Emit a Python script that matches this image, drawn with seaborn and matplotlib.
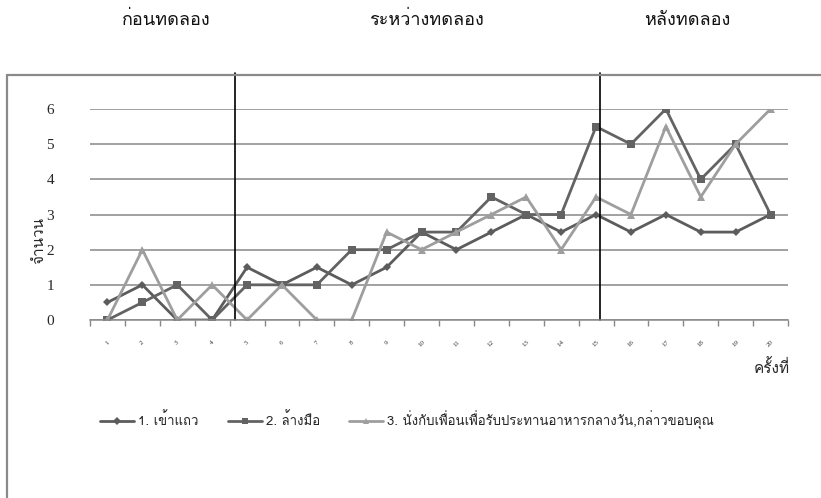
import matplotlib
matplotlib.use("Agg")
import matplotlib.pyplot as plt
import seaborn as sns
import pandas as pd
from matplotlib import font_manager
from matplotlib.ft2font import FT2Font
from matplotlib.lines import Line2D

# ---------------- data ----------------
sessions = list(range(1, 21))
tick_labels = [str(i) for i in sessions]
series_names = ["1. เข้าแถว", "2. ล้างมือ",
                "3. นั่งกับเพื่อนเพื่อรับประทานอาหารกลางวัน,กล่าวขอบคุณ"]
s1 = [0.5, 1, 0, 0, 1.5, 1, 1.5, 1, 1.5, 2.5, 2, 2.5, 3, 2.5, 3, 2.5, 3, 2.5, 2.5, 3]
s2 = [0, 0.5, 1, 0, 1, 1, 1, 2, 2, 2.5, 2.5, 3.5, 3, 3, 5.5, 5, 6, 4, 5, 3]
s3 = [0, 2, 0, 1, 0, 1, 0, 0, 2.5, 2, 2.5, 3, 3.5, 2, 3.5, 3, 5.5, 3.5, 5, 6]
phase_labels = ["ก่อนทดลอง", "ระหว่างทดลอง", "หลังทดลอง"]
y_label = "จำนวน"
x_label = "ครั้งที่"

# ---------------- fonts ----------------
thai_font = None
for f in font_manager.fontManager.ttflist:
    try:
        ft = FT2Font(f.fname)
        if 0x0E01 in ft.get_charmap():
            thai_font = f.name
            break
    except Exception:
        pass

sns.set_theme(style="white")
fams = ([thai_font] if thai_font else []) + ["DejaVu Sans"]
plt.rcParams["font.family"] = fams
serif = ["Liberation Serif", "DejaVu Serif"]

W, H = 821, 498
fig = plt.figure(figsize=(W / 100, H / 100), dpi=100)
ax = fig.add_axes([90 / W, 1 - 320 / H, (788 - 90) / W, (320 - 109) / H])

rows = []
for name, vals in zip(series_names, [s1, s2, s3]):
    for x, v in zip(sessions, vals):
        rows.append({"session": x, "value": v, "series": name})
df = pd.DataFrame(rows)

colors = ["#5c5c5c", "#636363", "#9e9e9e"]
sns.lineplot(data=df, x="session", y="value", hue="series", style="series",
             hue_order=series_names, style_order=series_names,
             palette=colors, markers=["D", "s", "^"], dashes=False,
             linewidth=2.0, markersize=6, markeredgewidth=0, ax=ax, legend=False)
for ln in ax.get_lines()[:1]:
    ln.set_markersize(4.5)

ax.set_xlim(0.5, 20.5)
ax.set_ylim(0, 6)
ax.set_yticks(range(0, 7))
ax.set_yticklabels([str(i) for i in range(0, 7)], family=serif, fontsize=11)
ax.set_xticks(sessions)
ax.set_xticklabels(tick_labels, family=serif, fontsize=5, rotation=45, color="#333333")
ax.set_xticks([i + 0.5 for i in range(0, 21)], minor=True)
ax.tick_params(axis="x", which="major", length=0, pad=14)
ax.tick_params(axis="x", which="minor", length=4, color="#888888", width=1, direction="out", bottom=True)
ax.tick_params(axis="y", length=0, pad=26)
ax.yaxis.grid(True, color="#888888", linewidth=1.1)
ax.xaxis.grid(False)
for s in ["top", "right", "left"]:
    ax.spines[s].set_visible(False)
ax.spines["bottom"].set_color("#888888")
ax.spines["bottom"].set_linewidth(1.1)
ax.set_xlabel("")
ax.set_ylabel(y_label, fontsize=11)
ax.yaxis.set_label_coords((46 - 90) / (788 - 90), (320 - 240) / (320 - 109))

# phase separators
top_frac = (320 - 73) / (320 - 109)
for xv in [4.655, 15.11]:
    ax.axvline(xv, ymin=0, ymax=top_frac, color="black", linewidth=1.2, clip_on=False)

# outer chart border
fig.add_artist(Line2D([7 / W, 7 / W], [0, 1 - 75 / H], color="#8a8a8a", linewidth=1.6))
fig.add_artist(Line2D([7 / W, 1], [1 - 75 / H, 1 - 75 / H], color="#8a8a8a", linewidth=1.6))

# phase titles
for txt, xc in zip(phase_labels, [166, 426, 687]):
    fig.text(xc / W, 1 - 20 / H, txt, ha="center", va="center", fontsize=13, color="#111111")

fig.text(790 / W, 1 - 368 / H, x_label, ha="right", va="center", fontsize=11)

handles = [Line2D([], [], color=c, marker=m, markersize=ms, linewidth=2, markeredgewidth=0)
           for c, m, ms in zip(colors, ["D", "s", "^"], [4, 5, 5])]
fig.legend(handles, series_names, loc="center left", bbox_to_anchor=(88 / W, 1 - 420 / H),
           ncol=3, frameon=False, fontsize=9.5, handlelength=2.6, handletextpad=0.3,
           columnspacing=2.2)

fig.savefig("out.png", dpi=100, facecolor="white")
